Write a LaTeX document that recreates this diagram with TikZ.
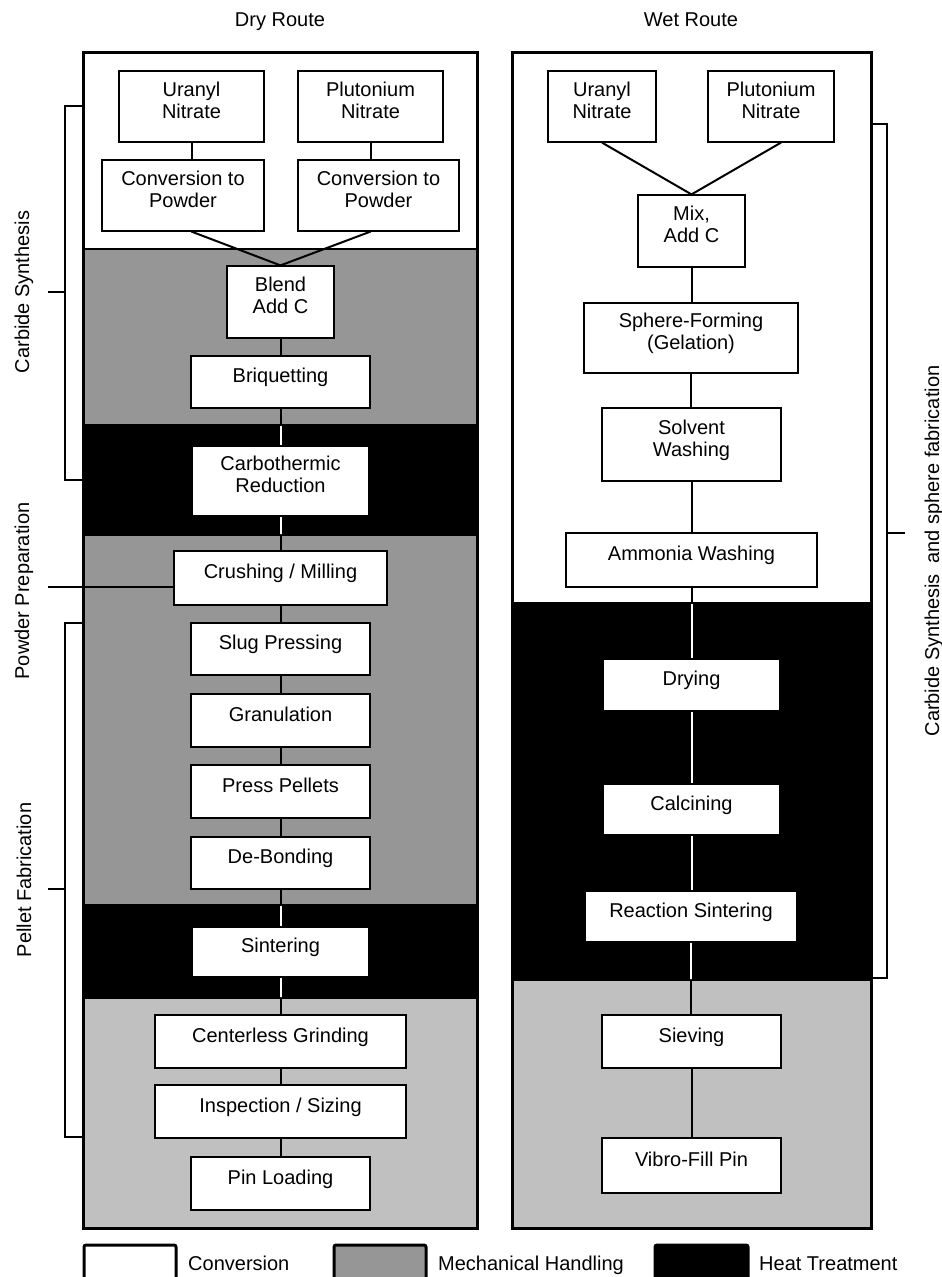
\documentclass[tikz,border=0pt]{standalone}
\usepackage{fontspec}
\setmainfont{Liberation Sans}
\usetikzlibrary{calc}
\pgfdeclarelayer{bg}
\pgfsetlayers{bg,main}
\definecolor{mech}{RGB}{150,150,150}
\definecolor{lite}{RGB}{192,192,192}
\newcommand\dn{\rule[-13pt]{0pt}{13pt}}
\tikzset{
  txt/.style={font=\fontsize{20}{22}\selectfont, inner sep=0pt},
  box/.style={draw, line width=1.2pt, fill=white, align=center, inner sep=2pt, font=\fontsize{20}{22}\selectfont},
  sect/.style={draw=black, line width=2pt},
  frame/.style={draw=black, line width=3pt},
  conn/.style={draw=black, line width=2pt},
  connw/.style={draw=white, line width=2pt},
  brk/.style={draw=black, line width=1.5pt},
  tick/.style={draw=black, line width=2pt},
  legbox/.style={draw=black, line width=3pt, rounded corners=2pt},
}
\newcommand\procbox[6]{\node[box, minimum width=#4pt, minimum height=#5pt] (#1) at (#2,#3) {#6\dn};}
\begin{document}
\begin{tikzpicture}[x=1pt,y=-1pt]
\useasboundingbox (0,0) rectangle (942,1277);
\clip (0,0) rectangle (942,1277);
% titles
\node[txt, anchor=base] (tdry) at (280,26) {Dry Route};
\node[txt, anchor=base] (twet) at (691,26) {Wet Route};
% dry boxes
\procbox{un}{191.5}{106.5}{145}{71}{Uranyl\\Nitrate}
\procbox{pn}{370.5}{106.5}{145}{71}{Plutonium\\Nitrate}
\procbox{cl}{183}{195.5}{162}{71}{Conversion to\\Powder}
\procbox{cr}{378.5}{195.5}{161}{71}{Conversion to\\Powder}
\procbox{bl}{280.5}{302}{107}{72}{Blend\\Add C}
\procbox{bq}{280.5}{382}{179}{52}{Briquetting}
\procbox{ct}{280.5}{481}{177}{70}{Carbothermic\\Reduction}
\procbox{cm}{280.5}{578}{213}{54}{Crushing / Milling}
\procbox{sp}{280.5}{649}{179}{52}{Slug Pressing}
\procbox{gr}{280.5}{720.5}{179}{53}{Granulation}
\procbox{pp}{280.5}{791.5}{179}{53}{Press Pellets}
\procbox{db}{280.5}{863}{179}{52}{De-Bonding}
\procbox{si}{280.5}{952}{177}{50}{Sintering}
\procbox{cg}{280.5}{1041.5}{251}{53}{Centerless Grinding}
\procbox{is}{280.5}{1111.5}{251}{53}{Inspection / Sizing}
\procbox{pl}{280.5}{1183.5}{179}{53}{Pin Loading}
% wet boxes
\procbox{wun}{602}{106.5}{108}{71}{Uranyl\\Nitrate}
\procbox{wpn}{771}{106.5}{126}{71}{Plutonium\\Nitrate}
\procbox{mx}{691.5}{231}{107}{72}{Mix,\\Add C}
\procbox{sf}{691}{338}{214}{70}{Sphere-Forming\\(Gelation)}
\procbox{sw}{691.5}{444.5}{179}{73}{Solvent\\Washing}
\procbox{aw}{691.5}{560}{251}{54}{Ammonia Washing}
\procbox{dr}{691.5}{685}{177}{52}{Drying}
\procbox{ca}{691.5}{809.5}{177}{51}{Calcining}
\procbox{rs}{691}{916.5}{212}{51}{Reaction Sintering}
\procbox{sv}{691.5}{1041.5}{179}{53}{Sieving}
\procbox{vf}{691.5}{1165.5}{179}{55}{Vibro-Fill Pin}
% background: sections, frames, connectors
\begin{pgfonlayer}{bg}
  \fill[white] (0,0) rectangle (942,1277);
  % dry sections
  \path[sect, fill=white] (83,52) rectangle (477,249);
  \path[sect, fill=mech] (83,249) rectangle (477,425);
  \path[sect, fill=black] (83,425) rectangle (477,535);
  \path[sect, fill=mech] (83,535) rectangle (477,905);
  \path[sect, fill=black] (83,905) rectangle (477,998);
  \path[sect, fill=lite] (83,998) rectangle (477,1228);
  % wet sections
  \path[sect, fill=white] (512,52) rectangle (871,603);
  \path[sect, fill=black] (512,603) rectangle (871,980);
  \path[sect, fill=lite] (512,980) rectangle (871,1228);
  % frames
  \path[frame] (83,52) rectangle (477,1228);
  \path[frame] (512,52) rectangle (871,1228);
  % connectors
  \foreach \a/\b in {un/cl,pn/cr,bl/bq,bq/ct,ct/cm,cm/sp,sp/gr,gr/pp,pp/db,db/si,si/cg,cg/is,is/pl,mx/sf,sf/sw,sw/aw,aw/dr,dr/ca,ca/rs,rs/sv,sv/vf}
    \path[conn] (\a.south) -- (\a.south |- \b.north);
  \path[conn] (cl.south -| un.south) -- (bl.north);
  \path[conn] (cr.south -| pn.south) -- (bl.north);
  \path[conn] (wun.south) -- (mx.north);
  \path[conn] ([xshift=10pt]wpn.south) -- (mx.north);
  % white connectors inside heat-treatment sections
  \begin{scope}
    \clip (84,426) rectangle (476,534) (84,906) rectangle (476,997) (513,604) rectangle (870,979);
    \foreach \a/\b in {bq/ct,ct/cm,db/si,si/cg,aw/dr,dr/ca,ca/rs,rs/sv}
      \path[connw] (\a.south) -- (\a.south |- \b.north);
  \end{scope}
\end{pgfonlayer}
% brackets left
\path[brk] (83,106) -- (65,106) -- (65,480) -- (83,480);
\path[tick] (48,292) -- (65,292);
\path[brk] (83,623) -- (65,623) -- (65,1137) -- (83,1137);
\path[tick] (48,889) -- (65,889);
\coordinate (ppl) at (48,587);
\path[brk] (ppl) -- (ppl -| cm.west);
\node[txt, rotate=90] (lcs) at (24,292) {Carbide Synthesis};
\node[txt, rotate=90] (lpp) at (24,591) {Powder Preparation};
\node[txt, rotate=90] (lpf) at (24,880) {Pellet Fabrication};
% bracket right
\path[brk] (871,124) -- (887,124) -- (887,978) -- (871,978);
\path[tick] (887,533) -- (905,533);
\node[txt, rotate=90] (lrs) at (934,551) {Carbide Synthesis\hspace{5pt} and sphere fabrication};
% legend
\path[legbox, fill=white] (84,1245) rectangle (176,1295);
\node[txt, anchor=base west] (lg1) at (188,1270) {Conversion};
\path[legbox, fill=mech] (334,1245) rectangle (426,1295);
\node[txt, anchor=base west] (lg2) at (438,1270) {Mechanical Handling};
\path[legbox, fill=black] (655,1245) rectangle (748,1295);
\node[txt, anchor=base west] (lg3) at (759,1270) {Heat Treatment};
\end{tikzpicture}
\end{document}
